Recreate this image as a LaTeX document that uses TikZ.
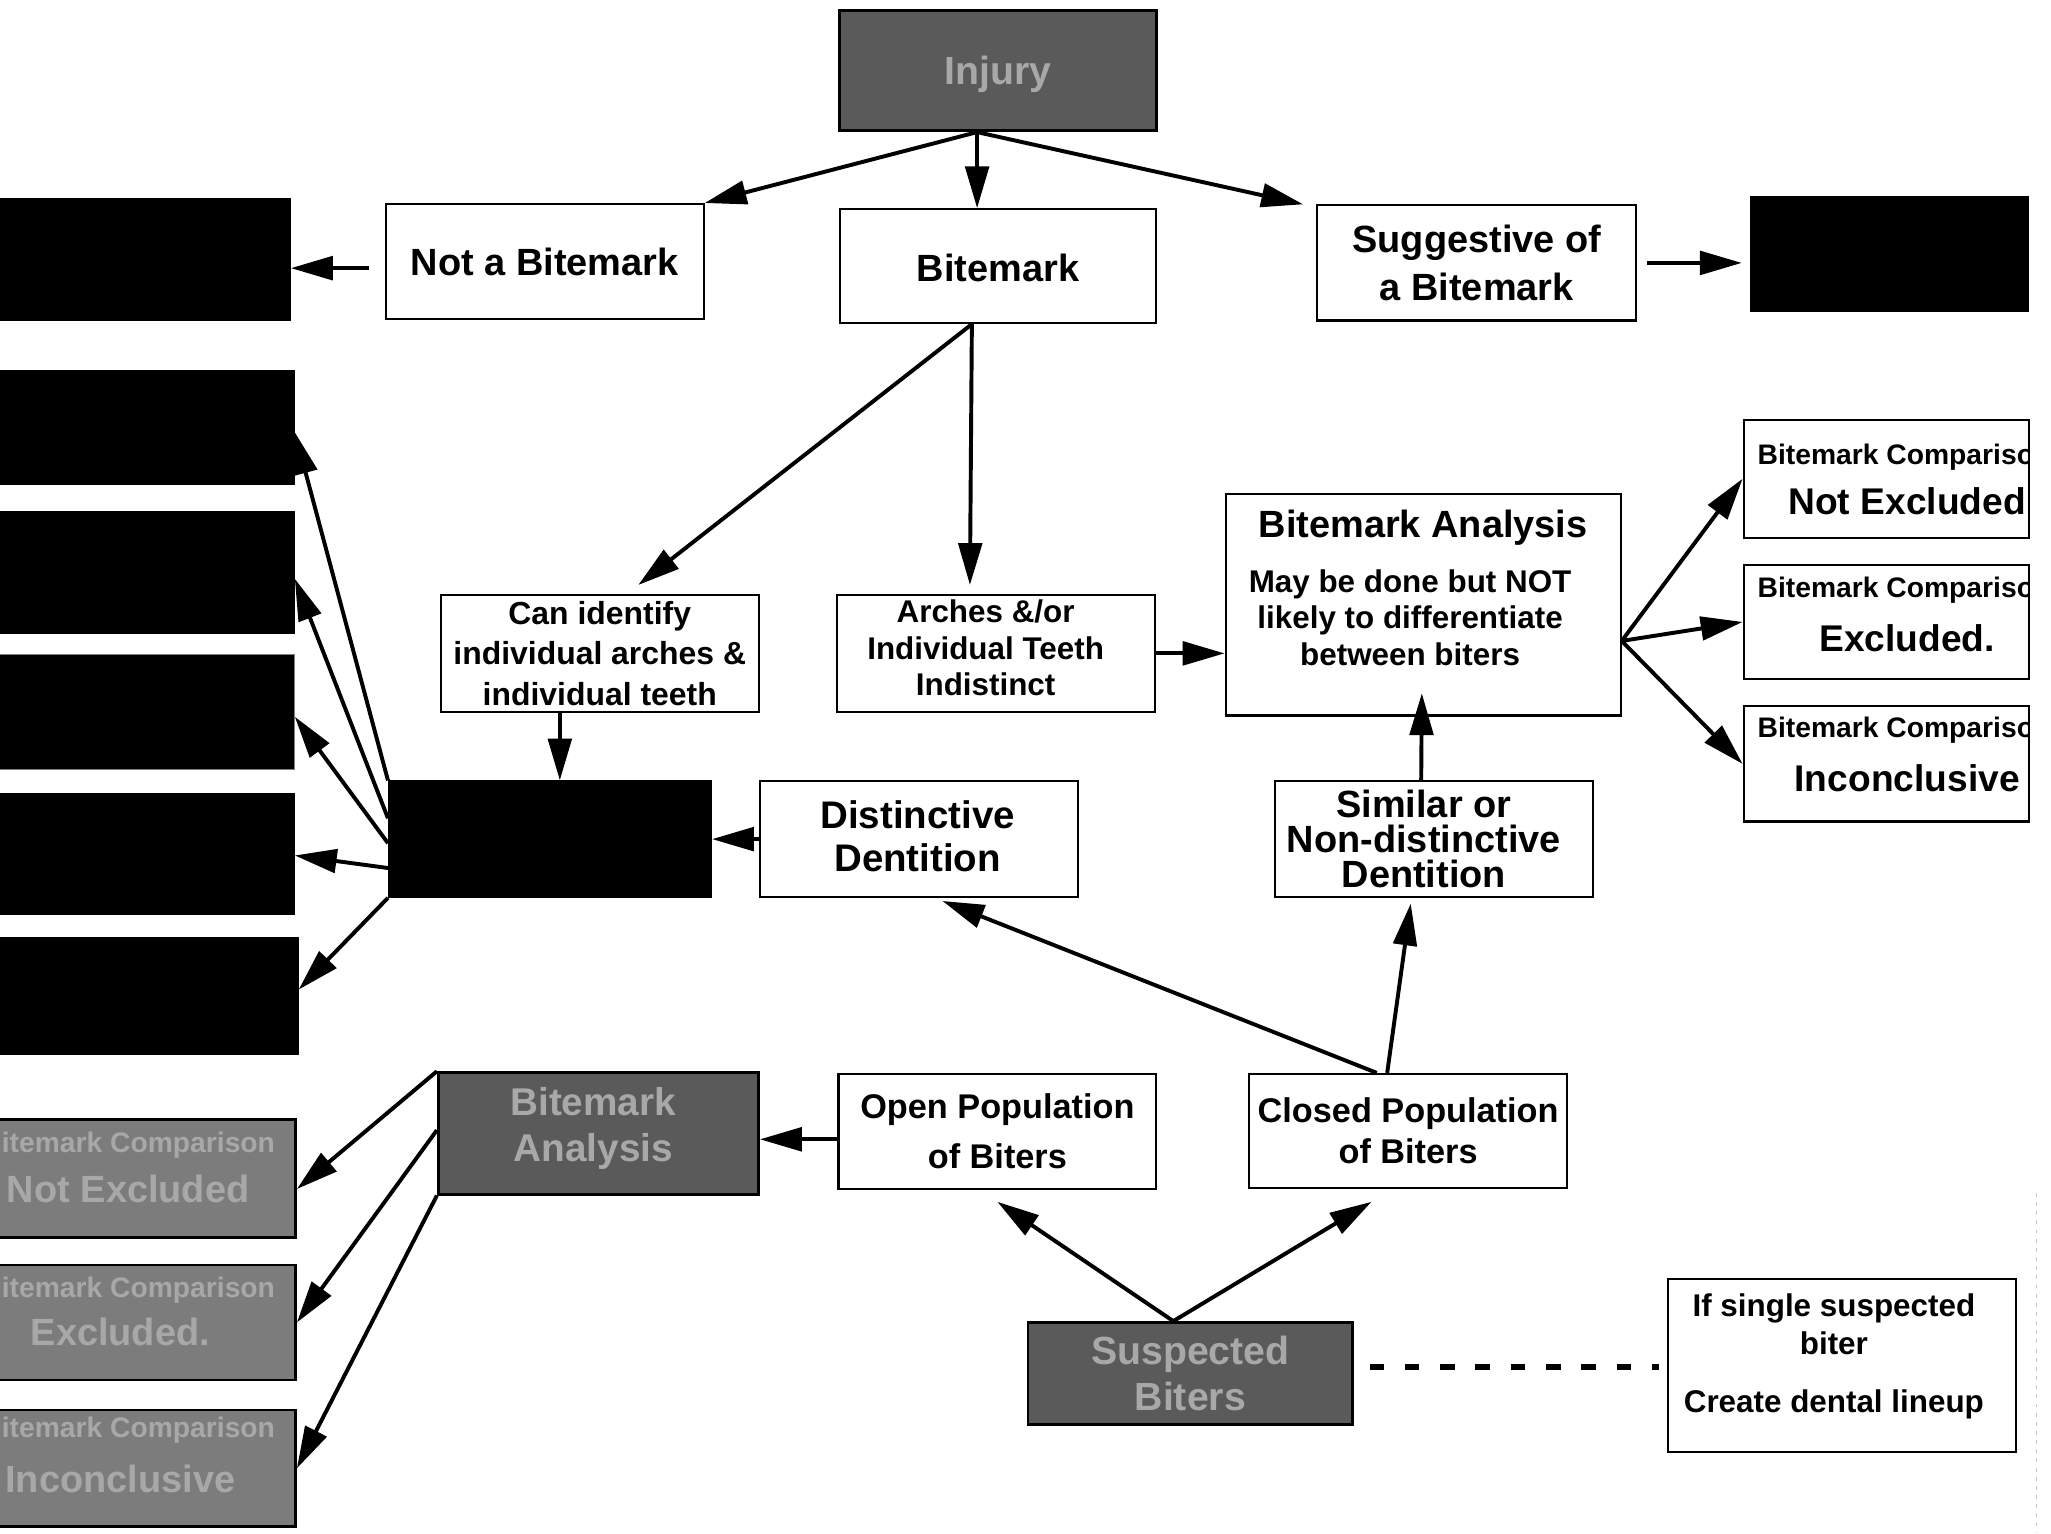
\documentclass[tikz,border=0pt]{standalone}
\usepackage{fontspec}
\setmainfont{Liberation Sans}
\usetikzlibrary{arrows.meta,fit,calc}
\definecolor{gdark}{HTML}{5A5A5A}
\definecolor{gmid}{HTML}{7C7C7C}
\definecolor{gtext}{HTML}{A8A8A8}
\newcommand\fsz[2]{\fontsize{#1}{#2}\selectfont}
\begin{document}
\begin{tikzpicture}[x=0.5pt,y=-0.5pt,
  wbox/.style={draw=black, line width=0.8pt, fill=white, inner sep=0pt},
  kbox/.style={draw=black, fill=black, inner sep=0pt},
  gbox/.style={draw=black, line width=1pt, fill=gdark, inner sep=0pt},
  mbox/.style={draw=black, line width=1pt, fill=gmid, inner sep=0pt},
  txt/.style={inner sep=0pt, align=center, font={\bfseries\fsz{14.5}{18}}},
  gtxt/.style={txt, text=gtext},
  arr/.style={line width=1.5pt, -{Triangle[length=16pt,width=9pt]}},
  dotline/.style={line width=2pt, dash pattern=on 5.5pt off 8pt}
]
\clip (0,0) rectangle (1568,1172);
\fill[white] (0,0) rectangle (1568,1172);

% top row
\node[gbox, fit={(642,8)(884,100)}] (inj) {};
\node[gtxt, font={\bfseries\fsz{15}{18}}] (injt) at ([yshift=-1.5pt]inj.center) {Injury};
\node[wbox, fit={(295,156)(538,244)}] (nab) {};
\node[txt] (nabt) at (nab.center) {Not a Bitemark};
\node[wbox, fit={(642,160)(884,247)}] (bm) {};
\node[txt] (bmt) at ([yshift=-0.5pt]bm.center) {Bitemark};
\node[wbox, fit={(1007,157)(1251,245)}] (sug) {};
\node[txt] (sugt) at (sug.center) {Suggestive of\\a Bitemark};
\node[kbox, fit={(-20,152)(222,245)}] (tl) {};
\node[kbox, fit={(1338,150)(1551,238)}] (tr) {};

% left black column
\node[kbox, fit={(-20,283)(225,370)}] (k1) {};
\node[kbox, fit={(-20,391)(225,484)}] (k2) {};
\node[kbox, fit={(-20,500)(225,588)}, draw=gray] (k3) {};
\node[kbox, fit={(-20,607)(225,699)}] (k4) {};
\node[kbox, fit={(-20,717)(228,806)}] (k5) {};
\node[kbox, fit={(297,597)(544,686)}] (cb) {};

% middle row
\node[wbox, fit={(337,455)(580,544)}] (can) {};
\node[txt, font={\bfseries\fsz{12.2}{15.5}}] (cant) at (can.center) {Can identify\\individual arches \&\\individual teeth};
\node[wbox, fit={(640,455)(883,544)}] (arch) {};
\node[txt, font={\bfseries\fsz{12}{14}}] (archt) at ([shift={(-4pt,2pt)}]arch.center) {Arches \&/or\\Individual Teeth\\Indistinct};
\node[wbox, fit={(937,378)(1239,547)}] (ba) {};
\node[txt, anchor=base] (bat) at (1088,411) {Bitemark Analysis};
\node[txt, anchor=north, font={\bfseries\fsz{12}{14}}] (bas) at (1078,435) {May be done but NOT\\likely to differentiate\\between biters};

% right comparison boxes
\node[wbox, fit={(1333,321)(1551,411)}] (rne) {};
\node[wbox, fit={(1333,432)(1551,519)}] (rex) {};
\node[wbox, fit={(1333,540)(1551,628)}] (rin) {};
\begin{scope}
\clip (1333,321) rectangle (1551,411);
\node[txt, anchor=base, font={\bfseries\fsz{10.8}{13}}] (rne1) at (1456,355) {Bitemark Comparison};
\node[txt, anchor=base, font={\bfseries\fsz{14.2}{17}}] (rne2) at (1458,393) {Not Excluded};
\end{scope}
\begin{scope}
\clip (1333,432) rectangle (1551,519);
\node[txt, anchor=base, font={\bfseries\fsz{10.8}{13}}] (rex1) at (1456,457) {Bitemark Comparison};
\node[txt, anchor=base, font={\bfseries\fsz{14.2}{17}}] (rex2) at (1458,498) {Excluded.};
\end{scope}
\begin{scope}
\clip (1333,540) rectangle (1551,628);
\node[txt, anchor=base, font={\bfseries\fsz{10.8}{13}}] (rin1) at (1456,564) {Bitemark Comparison};
\node[txt, anchor=base, font={\bfseries\fsz{14.2}{17}}] (rin2) at (1458,605) {Inconclusive};
\end{scope}

% dentition
\node[wbox, fit={(581,597)(824,686)}] (dis) {};
\node[txt, font={\bfseries\fsz{14.7}{16.5}}] (dist) at ([xshift=-0.5pt,yshift=1pt]dis.center) {Distinctive\\Dentition};
\node[wbox, fit={(975,597)(1218,686)}] (sim) {};
\node[txt, font={\bfseries\fsz{14.5}{13.5}}] (simt) at ([xshift=-4pt]sim.center) {Similar or\\Non-distinctive\\Dentition};

% populations
\node[gbox, fit={(335,820)(580,913)}] (gba) {};
\node[gtxt, font={\bfseries\fsz{14.8}{17.5}}] (gbat) at ([xshift=-2pt,yshift=2pt]gba.center) {Bitemark\\Analysis};
\node[wbox, fit={(641,821)(884,909)}] (open) {};
\node[txt, font={\bfseries\fsz{13.1}{19}}] (opent) at (open.center) {Open Population\\of Biters};
\node[wbox, fit={(955,821)(1198,908)}] (cl) {};
\node[txt, font={\bfseries\fsz{13.1}{15.5}}] (clt) at (cl.center) {Closed Population\\of Biters};

% left gray comparison boxes
\node[mbox, fit={(-30,856)(226,946)}] (lne) {};
\node[mbox, fit={(-30,967)(226,1055)}] (lex) {};
\node[mbox, fit={(-30,1078)(226,1167)}] (lin) {};
\node[gtxt, anchor=base west, font={\bfseries\fsz{10.8}{13}}] (lne1) at (1,881) {itemark Comparison};
\node[gtxt, anchor=base] (lne2) at (98,919) {Not Excluded};
\node[gtxt, anchor=base west, font={\bfseries\fsz{10.8}{13}}] (lex1) at (1,992) {itemark Comparison};
\node[gtxt, anchor=base] (lex2) at (92,1029) {Excluded.};
\node[gtxt, anchor=base west, font={\bfseries\fsz{10.8}{13}}] (lin1) at (1,1099) {itemark Comparison};
\node[gtxt, anchor=base] (lin2) at (92,1141) {Inconclusive};

% suspected biters and note
\node[gbox, fit={(786,1011)(1034,1089)}] (sb) {};
\node[gtxt, font={\bfseries\fsz{15}{17.5}}] (sbt) at (sb.center) {Suspected\\Biters};
\node[wbox, fit={(1275,978)(1541,1110)}] (note) {};
\node[txt, anchor=north, font={\bfseries\fsz{12}{14.5}}] (notet) at (1402,989) {If single suspected\\biter\\[7.5pt]Create dental lineup};

% connectors
\draw[arr] ([xshift=-8pt]inj.south) -- (nab.north east);
\draw[arr] ([xshift=-8pt]inj.south) -- ([xshift=-8pt]bm.north);
\draw[arr] ([xshift=-8pt]inj.south) -- ([xshift=-5pt]sug.north west);
\draw[arr, shorten <=6pt] ([yshift=-2.5pt]nab.west) -- ([yshift=-2.5pt]nab.west -| tl.east);
\draw[arr, shorten <=3.5pt, shorten >=3pt] (sug.east) -- (sug.east -| tr.west);
\draw[arr] ([xshift=-10pt]bm.south) -- ([shift={(14.75pt,3.5pt)}]can.north);
\draw[arr] ([xshift=-10pt]bm.south) -- ([xshift=-10pt,yshift=3.5pt]arch.north);
\draw[arr] (arch.east) -- (arch.east -| ba.west);
\coordinate (baIn) at (1087,530);
\draw[arr] ([xshift=-5pt]sim.north) -- (baIn);
\draw[arr] ([yshift=-13.75pt]ba.east) -- (rne.west);
\draw[arr] ([yshift=-13.75pt]ba.east) -- (rex.west);
\draw[arr] ([yshift=-13.75pt]ba.east) -- (rin.west);
\draw[arr] ([xshift=-15.25pt]can.south) -- ([xshift=-15.25pt]can.south |- cb.north);
\draw[arr] (dis.west) -- (dis.west -| cb.east);
\draw[arr] (cb.north west) -- ([yshift=-2pt]k1.east);
\draw[arr] ([yshift=-14.5pt]cb.north west) -- ([yshift=-2.5pt]k2.east);
\draw[arr] ([yshift=-24pt]cb.north west) -- ([yshift=-2pt]k3.east);
\draw[arr] ([yshift=-33.5pt]cb.north west) -- ([yshift=-0.5pt]k4.east);
\draw[arr] (cb.south west) -- ([yshift=2.5pt]k5.east);
\draw[arr] ([xshift=-6.5pt]sb.north) -- ([yshift=-4.5pt]open.south);
\draw[arr] ([xshift=-6.5pt]sb.north) -- ([xshift=-14pt,yshift=-5pt]cl.south);
\draw[arr] ([xshift=-8pt]cl.north) -- ([xshift=-9pt,yshift=-2pt]sim.south);
\draw[arr] ([xshift=-12pt]cl.north) -- ([xshift=9pt,yshift=-1pt]dis.south);
\draw[arr] ([yshift=-3pt]open.west) -- ([yshift=-3pt]open.west -| gba.east);
\draw[arr] (gba.north west) -- ([yshift=-4pt]lne.east);
\draw[arr] ([yshift=-22.5pt]gba.north west) -- (lex.east);
\draw[arr] (gba.south west) -- (lin.east);
\draw[dotline, shorten <=6pt, shorten >=3pt] ([yshift=2.5pt]sb.east) -- ([yshift=2.5pt]sb.east -| note.west);

% faint scan edge
\draw[gray!45, line width=0.4pt, dash pattern=on 1.5pt off 2pt] (1557,912) -- (1557,1172);
\end{tikzpicture}
\end{document}
